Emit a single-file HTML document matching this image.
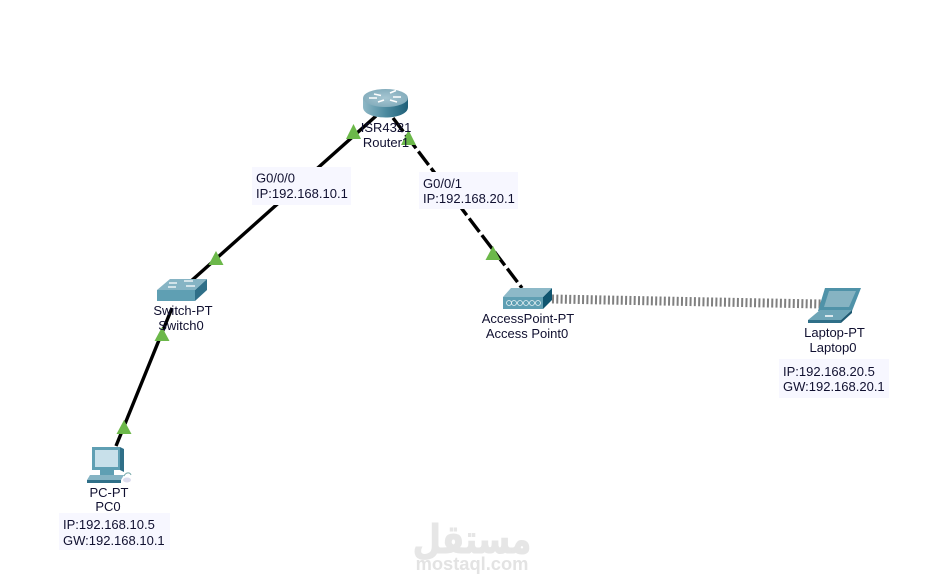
<!DOCTYPE html>
<html><head><meta charset="utf-8">
<style>
html,body{margin:0;padding:0;background:#fff}
svg{display:block}
text{font-family:"Liberation Sans",sans-serif;font-size:13px;fill:#101030}
.m{text-anchor:middle}
</style></head>
<body>
<svg width="943" height="587" viewBox="0 0 943 587" xmlns="http://www.w3.org/2000/svg">
<defs>
<linearGradient id="rs" x1="0" x2="1" y1="0" y2="0">
<stop offset="0" stop-color="#8fb8c6"/><stop offset="0.5" stop-color="#4d8ba0"/><stop offset="1" stop-color="#1f5f78"/>
</linearGradient>
<radialGradient id="rt" cx="0.5" cy="0.5" r="0.6">
<stop offset="0" stop-color="#a6c6d2"/><stop offset="1" stop-color="#7fa9b9"/>
</radialGradient>
</defs>
<!-- links -->
<line x1="376" y1="116" x2="190" y2="282" stroke="#000" stroke-width="3.4"/>
<line x1="172" y1="308" x2="116" y2="446" stroke="#000" stroke-width="3.4"/>
<line x1="393" y1="118" x2="522" y2="288" stroke="#000" stroke-width="3.4" stroke-dasharray="17 4"/>
<line x1="552" y1="299" x2="822" y2="304" stroke="#808080" stroke-width="9" stroke-dasharray="2 2.3"/>

<!-- label boxes -->
<rect x="252" y="167" width="99" height="38" fill="#f7f7ff"/>
<rect x="419" y="172" width="99" height="37" fill="#f7f7ff"/>
<rect x="779" y="359" width="110" height="39" fill="#f7f7ff"/>
<rect x="59" y="513" width="111" height="37" fill="#f7f7ff"/>

<!-- router -->
<path d="M363 98 V107 C363 121 408 121 408 107 V98 Z" fill="url(#rs)"/>
<ellipse cx="385.500" cy="98" rx="22.500" ry="9" fill="url(#rt)"/>
<path d="M374 94 l7 1.500 M390 93 l6 -2.500 M378 102 l6 -2 M390 100 l7 2 M369 98 h8 M393 97 h8" stroke="#fff" stroke-width="1.600"/>

<!-- switch -->
<path d="M157 290 H195 V301 H157 Z" fill="#5f9fb3"/>
<path d="M195 290 L207 279 V290 L195 301 Z" fill="#2f6f88"/>
<path d="M157 290 L170 279 H207 L195 290 Z" fill="#86b4c4"/>
<path d="M169 283 h8 M184 281 h9 M168 287 h8 M186 286 h9" stroke="#fff" stroke-width="1.200"/>

<!-- access point -->
<path d="M503 297 H543 V309 H503 Z" fill="#5f9fb3"/>
<path d="M543 297 L552 288 V300 L543 309 Z" fill="#0f5570"/>
<path d="M503 297 L511 288 H552 L543 297 Z" fill="#8db9c8"/>
<g fill="none" stroke="#e8f2f5" stroke-width="0.800">
<circle cx="509" cy="303" r="2.500"/><circle cx="514" cy="303" r="2.500"/><circle cx="520" cy="303" r="2.500"/><circle cx="526" cy="303" r="2.500"/><circle cx="532" cy="303" r="2.500"/><circle cx="538" cy="303" r="2.500"/>
</g>

<!-- laptop -->
<path d="M818 311 L825 288 H861 L852 311 Z" fill="#4f92a8"/>
<path d="M824 307 L829 291 H856 L849 307 Z" fill="#86b3c2"/>
<path d="M808 320 L820 310 H852 L841 320 Z" fill="#6ea5b7"/>
<path d="M808 320 H841 V323 H808 Z" fill="#2f6f88"/>
<path d="M841 320 L852 310 V313 L841 323 Z" fill="#1f5a72"/>
<path d="M825 316 h8" stroke="#fff" stroke-width="1.500"/>

<!-- PC -->
<path d="M92 447 H120 V470 H92 Z" fill="#5f9fb3"/>
<path d="M120 447 L124 449 V472 L120 470 Z" fill="#2f6f88"/>
<rect x="95" y="450" width="23" height="17" fill="#c8e0ea"/>
<path d="M100 470 H114 V475 H100 Z" fill="#5f9fb3"/>
<path d="M90 475 H124 L121 480 H87 Z" fill="#86b4c4"/>
<path d="M87 480 H121 V483 H87 Z" fill="#2f6f88"/>
<path d="M124 476 C126 472 130 472 131 475" fill="none" stroke="#7aa" stroke-width="1"/>
<ellipse cx="127" cy="480" rx="4" ry="2.500" fill="#dde"/>

<!-- green triangles -->
<g fill="#6cb84a">
<path d="M353.500 124 L361 139 H346 Z"/>
<path d="M408.500 130 L416 145 H401 Z"/>
<path d="M216 251 L223.500 265 H208.500 Z"/>
<path d="M493 246 L500.500 260 H485.500 Z"/>
<path d="M162 327 L169.500 341 H154.500 Z"/>
<path d="M124 420 L131.500 434 H116.500 Z"/>
</g>

<!-- labels -->
<text class="m" x="386" y="132">ISR4321</text>
<text class="m" x="386" y="147">Router1</text>
<text x="256" y="182.500">G0/0/0</text>
<text x="256" y="198">IP:192.168.10.1</text>
<text x="423" y="188">G0/0/1</text>
<text x="423" y="203">IP:192.168.20.1</text>
<text class="m" x="183" y="315">Switch-PT</text>
<text class="m" x="181" y="330">Switch0</text>
<text class="m" x="528" y="323">AccessPoint-PT</text>
<text class="m" x="527" y="338">Access Point0</text>
<text class="m" x="834.500" y="337">Laptop-PT</text>
<text class="m" x="833" y="352">Laptop0</text>
<text x="783" y="376">IP:192.168.20.5</text>
<text x="783" y="391">GW:192.168.20.1</text>
<text class="m" x="109" y="497">PC-PT</text>
<text class="m" x="108" y="511">PC0</text>
<text x="63" y="529">IP:192.168.10.5</text>
<text x="63" y="545">GW:192.168.10.1</text>

<!-- watermark -->
<text transform="translate(472 553) scale(0.9 1.1)" text-anchor="middle" style="font-family:'DejaVu Sans',sans-serif;font-size:36px;font-weight:bold;fill:#e6e6e6;stroke:#e6e6e6;stroke-width:1">مستقل</text>
<text x="472" y="570" text-anchor="middle" style="font-size:18.300px;font-weight:bold;fill:#e3e3e3">mostaql.com</text>
</svg>
</body></html>
